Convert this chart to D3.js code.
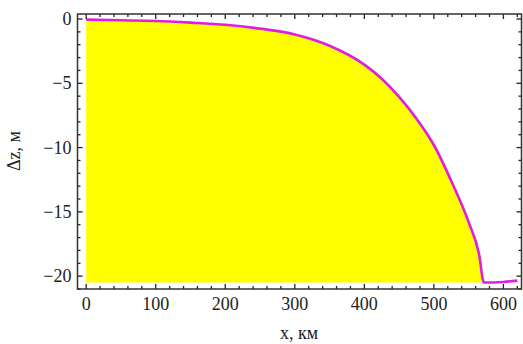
<!DOCTYPE html>
<html>
<head>
<meta charset="utf-8">
<script src="https://cdn.jsdelivr.net/npm/d3@7"></script>
<style>
  body { margin: 0; background: #fff; }
  text { font-family: "Liberation Serif", "DejaVu Serif", serif; fill: #222; }
</style>
</head>
<body>
<div id="chart"></div>
<script>
// data (x in km, dz in m)
const xs = [0, 50, 100, 150, 200, 250, 300, 350, 400, 425, 450, 475, 500, 525, 550, 565, 572, 600, 620];
const dz = [-0.05, -0.1, -0.15, -0.28, -0.45, -0.75, -1.2, -2.08, -3.55, -4.65, -6.05, -7.75, -9.8, -12.6, -15.8, -18.3, -20.5, -20.45, -20.35];
const fillBase = -20.5;
const xTicks = [0, 100, 200, 300, 400, 500, 600];
const yTicks = [0, -5, -10, -15, -20];

const w = 523, h = 344;
const padL = 77.5, padR = 521.5, padT = 14, padB = 289;

const svg = d3.select("#chart").append("svg")
  .attr("width", w)
  .attr("height", h);

const xScale = d3.scaleLinear().domain([-12.5, 626]).range([padL, padR]);
const yScale = d3.scaleLinear().domain([-21, 0.39]).range([padB, padT]);

const data = xs.map((x, i) => ({ x: x, y: dz[i] }));
const filled = data.filter(d => d.x <= 572);

// yellow fill under the curve
svg.append("path")
   .datum(filled)
   .attr("d", d3.area()
     .x(d => xScale(d.x))
     .y0(yScale(fillBase))
     .y1(d => yScale(d.y))
     .curve(d3.curveMonotoneX))
   .style("fill", "#ffff00");

// magenta curve
svg.append("path")
   .datum(data)
   .attr("d", d3.line()
     .x(d => xScale(d.x))
     .y(d => yScale(d.y))
     .curve(d3.curveMonotoneX))
   .style("fill", "none")
   .style("stroke", "#e01ee0")
   .style("stroke-width", 2.6);

// minor tick values
const xMinor = d3.range(0, 621, 20).filter(v => v % 100 !== 0);
const yMinor = d3.range(-21, 1, 1).filter(v => v % 5 !== 0);

// tick marks, drawn inward on all four sides of the frame
function ticks(values, len, side) {
  const g = svg.append("g");
  g.selectAll("line")
   .data(values)
   .enter()
   .append("line")
   .attr("x1", d => side === "left" ? padL : side === "right" ? padR : xScale(d))
   .attr("x2", d => side === "left" ? padL + len : side === "right" ? padR - len : xScale(d))
   .attr("y1", d => side === "top" ? padT : side === "bottom" ? padB : yScale(d))
   .attr("y2", d => side === "top" ? padT + len : side === "bottom" ? padB - len : yScale(d))
   .style("stroke", "#222")
   .style("stroke-width", 1.3);
}
["top", "bottom"].forEach(s => { ticks(xTicks, 5, s); ticks(xMinor, 3, s); });
["left", "right"].forEach(s => { ticks(yTicks, 5, s); ticks(yMinor, 3, s); });

// tick labels
svg.append("g")
   .selectAll("text")
   .data(xTicks)
   .enter()
   .append("text")
   .text(d => d)
   .attr("x", d => xScale(d))
   .attr("y", padB + 21)
   .attr("text-anchor", "middle")
   .style("font-size", "18px");

svg.append("g")
   .selectAll("text")
   .data(yTicks)
   .enter()
   .append("text")
   .text(d => d < 0 ? "\u2212" + Math.abs(d) : d)
   .attr("x", padL - 6)
   .attr("y", d => yScale(d) + 6)
   .attr("text-anchor", "end")
   .style("font-size", "18px");

// frame
svg.append("rect")
   .attr("x", padL)
   .attr("y", padT)
   .attr("width", padR - padL)
   .attr("height", padB - padT)
   .style("fill", "none")
   .style("stroke", "#333")
   .style("stroke-width", 1.5);

// axis titles
svg.append("text")
   .text("x, км")
   .attr("x", 299)
   .attr("y", 339)
   .attr("text-anchor", "middle")
   .style("font-size", "18px");

svg.append("text")
   .text("Δz, м")
   .attr("transform", "translate(20,151) rotate(-90)")
   .attr("text-anchor", "middle")
   .style("font-size", "18px");
</script>
</body>
</html>
